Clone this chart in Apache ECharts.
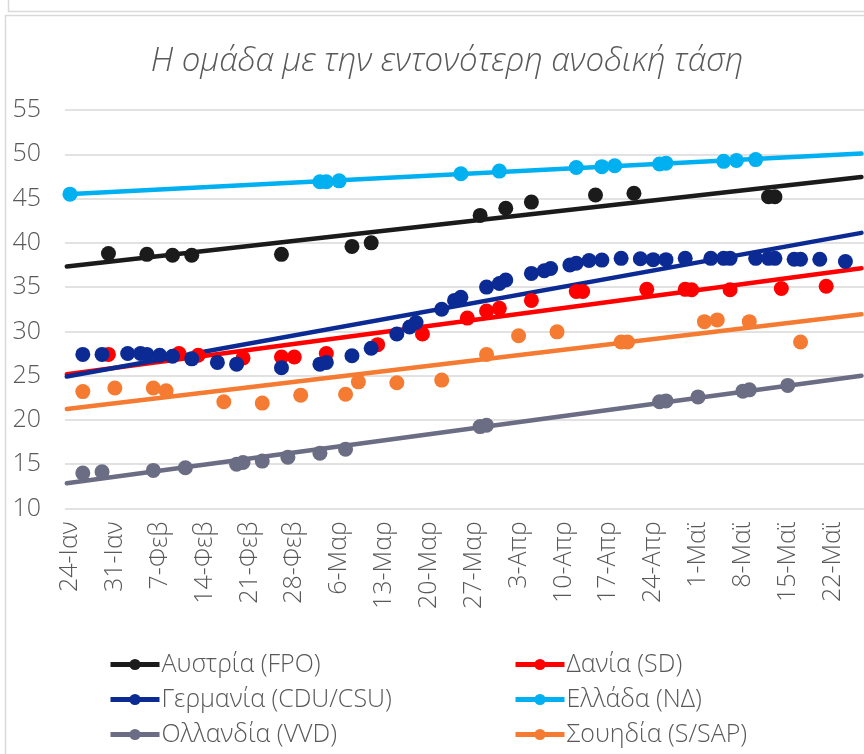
<!DOCTYPE html>
<html>
<head>
<meta charset="utf-8">
<script src="https://cdn.jsdelivr.net/npm/echarts@6/dist/echarts.min.js"></script>
<style>
  html, body { margin: 0; padding: 0; background: #fff; }
  #chart { width: 864px; height: 754px; }
</style>
</head>
<body>
<div id="chart"></div>
<script>
// x = days after 24 Jan
const tickLabels = ['24-Ιαν','31-Ιαν','7-Φεβ','14-Φεβ','21-Φεβ','28-Φεβ','6-Μαρ','13-Μαρ','20-Μαρ','27-Μαρ','3-Απρ','10-Απρ','17-Απρ','24-Απρ','1-Μαϊ','8-Μαϊ','15-Μαϊ','22-Μαϊ']
const tickDays = [0,7,14,21,28,35,42,49,56,63,70,77,84,91,98,105,112,119]

const austriaDays = [6,12,16,19,33,44,47,64,68,72,82,88,109,110]
const austriaValues = [38.8,38.7,38.6,38.6,38.7,39.6,40.0,43.1,43.9,44.6,45.4,45.6,45.2,45.2]

const denmarkDays = [6,17,20,27,33,35,40,48,55,62,65,67,72,79,80,90,96,97,103,111,118]
const denmarkValues = [27.4,27.5,27.3,27.0,27.1,27.1,27.5,28.5,29.7,31.5,32.3,32.6,33.5,34.5,34.5,34.75,34.75,34.7,34.7,34.85,35.1]

const germanyDays = [2,5,9,11,12,14,16,19,23,26,33,39,40,44,47,51,53,54,58,60,61,65,67,68,72,74,75,78,79,81,83,86,89,91,93,96,100,102,103,107,109,110,113,114,117,121]
const germanyValues = [27.4,27.4,27.5,27.5,27.4,27.3,27.2,26.9,26.5,26.3,25.9,26.3,26.5,27.25,28.1,29.7,30.5,31.0,32.5,33.5,33.85,35.0,35.4,35.8,36.55,36.85,37.1,37.5,37.7,38.0,38.05,38.25,38.2,38.1,38.1,38.25,38.25,38.25,38.25,38.25,38.25,38.25,38.15,38.15,38.15,37.9]

const greeceDays = [0,39,40,42,61,67,79,83,85,92,93,102,104,107]
const greeceValues = [45.5,46.9,46.9,47.0,47.8,48.1,48.5,48.6,48.7,48.9,49.0,49.2,49.3,49.4]

const netherlandsDays = [2,5,13,18,26,27,30,34,39,43,64,65,92,93,98,105,106,112]
const netherlandsValues = [14.0,14.15,14.3,14.6,15.0,15.2,15.35,15.8,16.25,16.7,19.25,19.4,22.05,22.15,22.6,23.25,23.4,23.9]

const swedenDays = [2,7,13,15,24,30,36,43,45,51,58,65,70,76,86,87,99,101,106,114]
const swedenValues = [23.2,23.6,23.6,23.3,22.05,21.9,22.8,22.9,24.3,24.2,24.5,27.4,29.5,29.95,28.8,28.8,31.1,31.3,31.1,28.8]

const countries = [
  {name: 'Αυστρία (FPO)', days: austriaDays, values: austriaValues, color: '#1b1b1b'},
  {name: 'Δανία (SD)', days: denmarkDays, values: denmarkValues, color: '#ff0000'},
  {name: 'Γερμανία (CDU/CSU)', days: germanyDays, values: germanyValues, color: '#0b2a93'},
  {name: 'Ελλάδα (ΝΔ)', days: greeceDays, values: greeceValues, color: '#00b0f0'},
  {name: 'Ολλανδία (VVD)', days: netherlandsDays, values: netherlandsValues, color: '#6b6d84'},
  {name: 'Σουηδία (S/SAP)', days: swedenDays, values: swedenValues, color: '#f47b31'}
]

// linear trendline (least squares), like Excel
function trend(xs, ys) {
  const n = xs.length
  let sx = 0, sy = 0
  for (let i = 0; i < n; i++) { sx += xs[i]; sy += ys[i] }
  const mx = sx / n, my = sy / n
  let sxy = 0, sxx = 0
  for (let i = 0; i < n; i++) {
    sxy += (xs[i] - mx) * (ys[i] - my)
    sxx += (xs[i] - mx) * (xs[i] - mx)
  }
  const b = sxy / sxx
  const a = my - b * mx
  return [[-0.5, a - b * 0.5], [123.5, a + b * 123.5]]
}

const textColor = '#595959'
const font = 'Open Sans'

let series = []
countries.forEach(c => {
  series.push({
    name: c.name + ' trend',
    type: 'line',
    data: trend(c.days, c.values),
    symbol: 'none',
    silent: true,
    z: 2,
    lineStyle: {color: c.color, width: 4.5, cap: 'round'}
  })
})
countries.forEach(c => {
  series.push({
    name: c.name,
    type: 'line',
    data: c.days.map((d, i) => [d, c.values[i]]),
    symbol: 'circle',
    symbolSize: 15,
    showAllSymbol: true,
    z: 3,
    itemStyle: {color: c.color},
    lineStyle: {width: 0, color: c.color}
  })
})

const chart = echarts.init(document.getElementById('chart'), null, {renderer: 'canvas'})
const legendCommon = {
  orient: 'vertical',
  top: 647,
  itemWidth: 49,
  itemHeight: 14,
  itemGap: 10,
  lineStyle: {width: 5},
  textStyle: {color: textColor, fontSize: 25, fontFamily: font, fontWeight: 300, padding: [0, 0, 0, -3]}
}
chart.setOption({
  animation: false,
  title: {
    text: 'Η ομάδα με την εντονότερη ανοδική τάση',
    left: 442,
    top: 40,
    textAlign: 'center',
    textStyle: {color: textColor, fontSize: 33, fontStyle: 'italic', fontWeight: 300, fontFamily: font}
  },
  graphic: [
    {type: 'polyline', shape: {points: [[8.5, 0], [8.5, 11.5], [864, 11.5]]}, style: {stroke: '#d9d9d9', lineWidth: 1.5, fill: null}},
    {type: 'polyline', shape: {points: [[5.5, 754], [5.5, 15.5], [864, 15.5]]}, style: {stroke: '#d9d9d9', lineWidth: 1.5, fill: null}}
  ],
  legend: [
    Object.assign({}, legendCommon, {left: 103, data: [countries[0].name, countries[2].name, countries[4].name]}),
    Object.assign({}, legendCommon, {left: 508, data: [countries[1].name, countries[3].name, countries[5].name]})
  ],
  grid: {left: 65, right: 0, top: 110, height: 398.5, containLabel: false},
  xAxis: {
    type: 'value',
    min: -0.78,
    max: 123.9,
    axisLine: {show: false},
    axisTick: {show: false},
    splitLine: {show: false},
    axisLabel: {
      customValues: tickDays,
      rotate: 90,
      margin: 13,
      color: textColor,
      fontSize: 25,
      fontFamily: font,
      fontWeight: 300,
      formatter: v => tickLabels[tickDays.indexOf(Math.round(v))] || ''
    }
  },
  yAxis: {
    type: 'value',
    min: 10,
    max: 55,
    interval: 5,
    axisLine: {show: false},
    axisTick: {show: false},
    splitLine: {lineStyle: {color: '#d9d9d9', width: 1.5}},
    axisLabel: {margin: 24, color: textColor, fontSize: 25, fontFamily: font, fontWeight: 300}
  },
  series: series
})
</script>
</body>
</html>
